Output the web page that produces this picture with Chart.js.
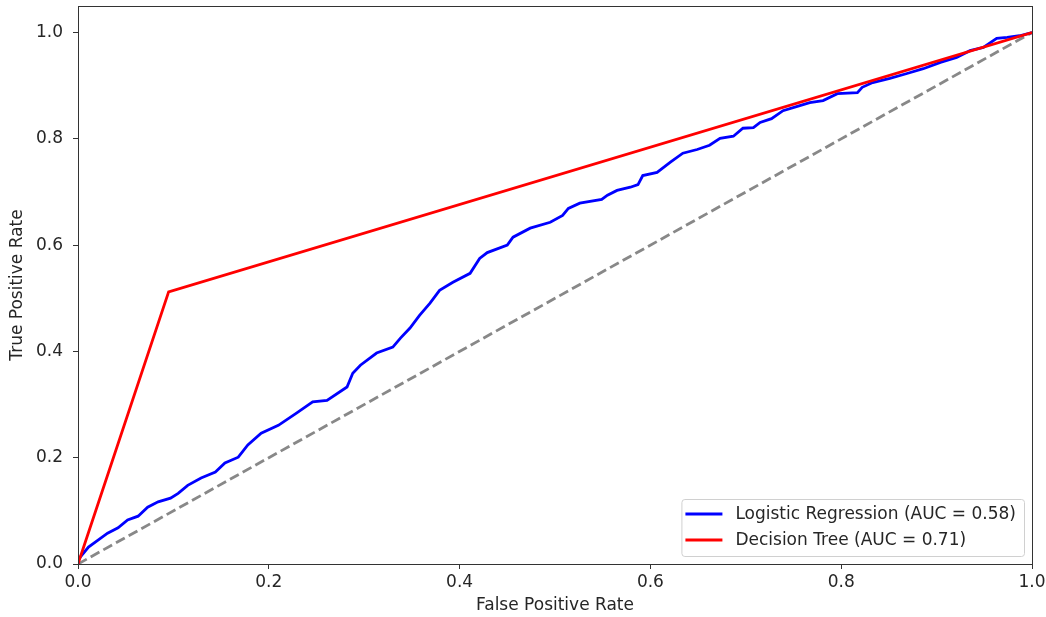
<!DOCTYPE html>
<html>
<head>
<meta charset="utf-8">
<title>ROC curves</title>
<script src="https://cdn.jsdelivr.net/npm/chart.js@4.4.1/dist/chart.umd.min.js"></script>
<style>
  body { margin: 0; background: #fff; }
  #wrap { width: 1046px; height: 617px; }
</style>
</head>
<body>
<div id="wrap"><canvas id="rocChart" width="1046" height="617"></canvas></div>
<script>

// roc data

const lrFpr = [0, 0.0, 0.011, 0.021, 0.031, 0.042, 0.052, 0.063, 0.073, 0.084,
  0.097, 0.105, 0.115, 0.129, 0.144, 0.154, 0.168, 0.178, 0.192, 0.210,
  0.229, 0.246, 0.261, 0.282, 0.288, 0.296, 0.313, 0.330, 0.338, 0.348,
  0.358, 0.369, 0.379, 0.393, 0.411, 0.421, 0.429, 0.450, 0.456, 0.474,
  0.495, 0.508, 0.514, 0.526, 0.549, 0.555, 0.565, 0.579, 0.587, 0.592,
  0.607, 0.621, 0.634, 0.649, 0.662, 0.673, 0.687, 0.697, 0.708, 0.715,
  0.727, 0.739, 0.754, 0.767, 0.781, 0.796, 0.817, 0.822, 0.833, 0.851,
  0.869, 0.886, 0.904, 0.921, 0.935, 0.949, 0.963, 0.974, 0.987, 1.0];
const lrTpr = [0, 0.008, 0.032, 0.045, 0.058, 0.068, 0.083, 0.090, 0.107, 0.117,
  0.124, 0.133, 0.148, 0.162, 0.173, 0.190, 0.201, 0.224, 0.246, 0.261,
  0.284, 0.305, 0.308, 0.333, 0.359, 0.374, 0.397, 0.408, 0.425, 0.444,
  0.468, 0.491, 0.515, 0.530, 0.547, 0.575, 0.586, 0.600, 0.615, 0.632,
  0.643, 0.656, 0.669, 0.679, 0.686, 0.694, 0.703, 0.709, 0.714, 0.731,
  0.737, 0.756, 0.773, 0.780, 0.788, 0.801, 0.805, 0.820, 0.821, 0.831,
  0.838, 0.853, 0.861, 0.868, 0.872, 0.885, 0.887, 0.897, 0.906, 0.914,
  0.923, 0.932, 0.944, 0.953, 0.966, 0.972, 0.989, 0.991, 0.994, 1.0];

const dtFpr = [0, 0.095, 1];
const dtTpr = [0, 0.512, 1];

const chanceFpr = [0, 1];
const chanceTpr = [0, 1];

const xTicks = [0, 0.2, 0.4, 0.6, 0.8, 1.0];
const yTicks = [0, 0.2, 0.4, 0.6, 0.8, 1.0];

const lrLabel = 'Logistic Regression (AUC = 0.58)';
const dtLabel = 'Decision Tree (AUC = 0.71)';

function toPoints(xs, ys) {
  return xs.map((x, i) => ({ x: x, y: ys[i] }));
}

const FONT = "'DejaVu Sans', sans-serif";
const FSIZE = 17;
const TEXT = '#262626';
const AXIS = '#333333';

// frame on top and right like matplotlib spines
const framePlugin = {
  id: 'frame',
  afterDraw(chart) {
    const a = chart.chartArea;
    const ctx = chart.ctx;
    ctx.save();
    ctx.strokeStyle = AXIS;
    ctx.lineWidth = 1;
    ctx.strokeRect(Math.round(a.left) + 0.5, Math.round(a.top) + 0.5,
      Math.round(a.right - a.left), Math.round(a.bottom - a.top));
    ctx.restore();
  }
};

// legend box in the lower right corner of the plot
const cornerLegend = {
  id: 'cornerLegend',
  afterDraw(chart) {
    const a = chart.chartArea;
    const ctx = chart.ctx;
    const items = chart.data.datasets.filter(d => d.label);
    ctx.save();
    ctx.font = FSIZE + 'px ' + FONT;
    let textW = 0;
    items.forEach(d => { textW = Math.max(textW, ctx.measureText(d.label).width); });
    const rowH = 26;
    const w = 4 + 37 + 13 + textW + 8;
    const h = items.length * rowH + 5;
    const x0 = a.right - 8 - w;
    const y0 = a.bottom - 8 - h;
    ctx.beginPath();
    ctx.roundRect(x0 + 0.5, y0 + 0.5, w, h, 3);
    ctx.fillStyle = 'rgba(255,255,255,0.8)';
    ctx.fill();
    ctx.strokeStyle = '#d0d0d0';
    ctx.lineWidth = 1;
    ctx.stroke();
    items.forEach((d, i) => {
      const cy = y0 + 15 + i * rowH;
      ctx.beginPath();
      ctx.moveTo(x0 + 4, cy);
      ctx.lineTo(x0 + 41, cy);
      ctx.strokeStyle = d.borderColor;
      ctx.lineWidth = 2.8;
      ctx.stroke();
      ctx.fillStyle = TEXT;
      ctx.textBaseline = 'middle';
      ctx.fillText(d.label, x0 + 54, cy + 1);
    });
    ctx.restore();
  }
};

const rocCtx = document.getElementById('rocChart').getContext('2d');
new Chart(rocCtx, {
  type: 'line',
  data: {
    datasets: [{
      label: lrLabel,
      data: toPoints(lrFpr, lrTpr),
      borderColor: '#0000ff',
      borderWidth: 2.8,
      order: 2
    }, {
      label: dtLabel,
      data: toPoints(dtFpr, dtTpr),
      borderColor: '#ff0000',
      borderWidth: 2.8,
      order: 1
    }, {
      label: '',
      data: toPoints(chanceFpr, chanceTpr),
      borderColor: '#888888',
      borderWidth: 2.8,
      borderDash: [10, 4.5],
      order: 3
    }]
  },
  options: {
    responsive: false,
    animation: false,
    layout: { padding: { top: 6, right: 14, bottom: 0, left: 0 } },
    elements: {
      point: { radius: 0 },
      line: { tension: 0, fill: false, borderCapStyle: 'butt' }
    },
    plugins: {
      legend: { display: false },
      tooltip: { enabled: false }
    },
    scales: {
      x: {
        type: 'linear',
        min: 0,
        max: 1,
        afterBuildTicks: s => { s.ticks = xTicks.map(v => ({ value: v })); },
        afterFit: s => { s.height = 53; s.paddingLeft = 0; s.paddingRight = 0; },
        ticks: {
          padding: 3,
          color: TEXT,
          font: { family: FONT, size: FSIZE },
          callback: v => v.toFixed(1)
        },
        grid: { drawOnChartArea: false, drawTicks: true, tickLength: 5, color: AXIS },
        border: { display: true, color: AXIS, width: 1 },
        title: {
          display: true,
          text: 'False Positive Rate',
          color: TEXT,
          font: { family: FONT, size: FSIZE },
          padding: { top: 2, bottom: 1 }
        }
      },
      y: {
        type: 'linear',
        min: 0,
        max: 1.05,
        afterBuildTicks: s => { s.ticks = yTicks.map(v => ({ value: v })); },
        afterFit: s => { s.width = 78; s.paddingTop = 0; s.paddingBottom = 0; },
        ticks: {
          padding: 10,
          color: TEXT,
          font: { family: FONT, size: FSIZE },
          callback: v => v.toFixed(1)
        },
        grid: { drawOnChartArea: false, drawTicks: true, tickLength: 5, color: AXIS },
        border: { display: true, color: AXIS, width: 1 },
        title: {
          display: true,
          text: 'True Positive Rate',
          color: TEXT,
          font: { family: FONT, size: FSIZE },
          padding: { top: 7, bottom: 3 }
        }
      }
    }
  },
  plugins: [framePlugin, cornerLegend]
});
</script>
</body>
</html>
